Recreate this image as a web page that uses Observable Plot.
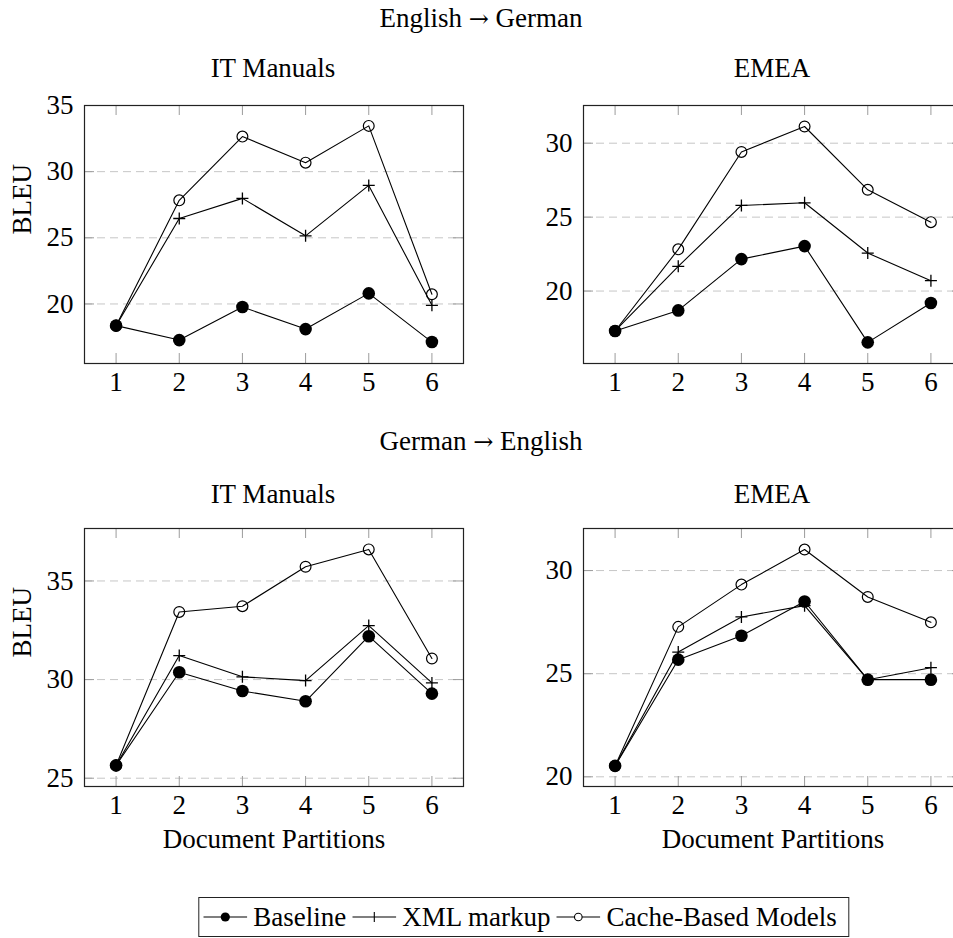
<!DOCTYPE html>
<html>
<head>
<meta charset="utf-8">
<script src="https://cdn.jsdelivr.net/npm/d3@7"></script>
<script src="https://cdn.jsdelivr.net/npm/@observablehq/plot@0.6"></script>
<style>
  html, body { margin: 0; padding: 0; background: #fff; overflow: hidden; }
  #root { position: relative; width: 953px; height: 938px; overflow: hidden; font-family: "Liberation Serif", serif; }
  .panel { position: absolute; }
  .panel svg { max-width: none !important; }
  #overlay { position: absolute; left: 0; top: 0; pointer-events: none; }
  #legend { position: absolute; top: 897px; left: 524px; transform: translateX(-50%); box-sizing: border-box;
            border: 1.2px solid #222; height: 40px; display: flex; align-items: center; padding: 0 6px 0 4px;
            white-space: nowrap; font: 27px "Liberation Serif", serif; color: #000; background: #fff; }
  #legend span { margin: 0 6px 0 6px; }
</style>
</head>
<body>
<div id="root"><svg id="overlay" width="953" height="938"></svg></div>
<script>
// ---- data ----
const partitions = [1, 2, 3, 4, 5, 6];
const xDomain = [0.5, 6.5];
const seriesNames = ["Baseline", "XML markup", "Cache-Based Models"];
const directions = [["English", "German"], ["German", "English"]];
const corpora = ["IT Manuals", "EMEA"];
const yAxisLabel = "BLEU";
const xAxisLabel = "Document Partitions";

// English -> German, IT Manuals
const enDeIT_baseline = [18.36, 17.27, 19.77, 18.10, 20.80, 17.12];
const enDeIT_xml      = [18.36, 26.46, 27.98, 25.15, 28.96, 19.90];
const enDeIT_cache    = [18.36, 27.83, 32.65, 30.68, 33.46, 20.73];
const enDeIT_yDomain  = [15.5, 35];
const enDeIT_yTicks   = [20, 25, 30, 35];
// English -> German, EMEA
const enDeEMEA_baseline = [17.30, 18.69, 22.16, 23.04, 16.53, 19.19];
const enDeEMEA_xml      = [17.30, 21.67, 25.79, 25.97, 22.57, 20.70];
const enDeEMEA_cache    = [17.30, 22.82, 29.41, 31.13, 26.85, 24.66];
const enDeEMEA_yDomain  = [15.1, 32.55];
const enDeEMEA_yTicks   = [20, 25, 30];
// German -> English, IT Manuals
const deEnIT_baseline = [25.65, 30.37, 29.42, 28.90, 32.20, 29.29];
const deEnIT_xml      = [25.65, 31.22, 30.14, 29.95, 32.74, 29.83];
const deEnIT_cache    = [25.65, 33.43, 33.72, 35.72, 36.60, 31.07];
const deEnIT_yDomain  = [24.58, 37.66];
const deEnIT_yTicks   = [25, 30, 35];
// German -> English, EMEA
const deEnEMEA_baseline = [20.53, 25.68, 26.84, 28.50, 24.71, 24.71];
const deEnEMEA_xml      = [20.53, 26.05, 27.75, 28.30, 24.71, 25.29];
const deEnEMEA_cache    = [20.53, 27.27, 29.32, 31.02, 28.72, 27.49];
const deEnEMEA_yDomain  = [19.53, 32.04];
const deEnEMEA_yTicks   = [20, 25, 30];

// ---- layout ----
const FONT = "Liberation Serif, serif";
const FS = 27;
const FRAME_H = 258;

const thinPlus = {
  draw(context, size) {
    const r = Math.sqrt(size / Math.PI);
    context.moveTo(-r, 0); context.lineTo(r, 0);
    context.moveTo(0, -r); context.lineTo(0, r);
  }
};

const panels = [
  {values: [enDeIT_baseline, enDeIT_xml, enDeIT_cache], yDomain: enDeIT_yDomain, yTicks: enDeIT_yTicks,
   left: 0, top: 95, width: 470, mL: 84, mR: 7, mT: 10, mB: 37, yLab: true, xLab: false},
  {values: [enDeEMEA_baseline, enDeEMEA_xml, enDeEMEA_cache], yDomain: enDeEMEA_yDomain, yTicks: enDeEMEA_yTicks,
   left: 490, top: 95, width: 480, mL: 93, mR: 8, mT: 10, mB: 37, yLab: false, xLab: false},
  {values: [deEnIT_baseline, deEnIT_xml, deEnIT_cache], yDomain: deEnIT_yDomain, yTicks: deEnIT_yTicks,
   left: 0, top: 518, width: 470, mL: 84, mR: 7, mT: 10, mB: 75, yLab: true, xLab: true},
  {values: [deEnEMEA_baseline, deEnEMEA_xml, deEnEMEA_cache], yDomain: deEnEMEA_yDomain, yTicks: deEnEMEA_yTicks,
   left: 490, top: 518, width: 480, mL: 93, mR: 8, mT: 10, mB: 75, yLab: false, xLab: true}
];

const root = document.getElementById("root");

function makePanel(cfg) {
  const rows = [];
  seriesNames.forEach((s, i) => cfg.values[i].forEach((v, j) => rows.push({series: s, x: partitions[j], y: v})));
  const fw = cfg.width - cfg.mL - cfg.mR;
  const tickCol = "#9c9c9c";
  const marks = [
    Plot.ruleY(cfg.yTicks, {stroke: "#c6c6c6", strokeWidth: 1, strokeDasharray: "8,5"}),
    Plot.ruleY(cfg.yTicks, {stroke: tickCol, strokeWidth: 1, insetRight: fw - 10}),
    Plot.ruleY(cfg.yTicks, {stroke: tickCol, strokeWidth: 1, insetLeft: fw - 10}),
    Plot.ruleX(partitions, {stroke: tickCol, strokeWidth: 1, insetTop: FRAME_H - 10}),
    Plot.ruleX(partitions, {stroke: tickCol, strokeWidth: 1, insetBottom: FRAME_H - 10}),
    Plot.frame({stroke: "#222", strokeWidth: 1.2}),
    Plot.axisX(partitions, {tickSize: 0, tickPadding: 8, label: null, fontSize: FS, tickFormat: d => String(d)}),
    Plot.axisY(cfg.yTicks, {tickSize: 0, tickPadding: 11, label: null, fontSize: FS, tickFormat: d => String(d)}),
    Plot.line(rows, {x: "x", y: "y", z: "series", stroke: "black", strokeWidth: 1.1}),
    Plot.dot(rows.filter(d => d.series === seriesNames[0]), {x: "x", y: "y", r: 6.3, fill: "black"}),
    Plot.dot(rows.filter(d => d.series === seriesNames[1]), {x: "x", y: "y", r: 6, symbol: thinPlus, fill: "none", stroke: "black", strokeWidth: 1.3}),
    Plot.dot(rows.filter(d => d.series === seriesNames[2]), {x: "x", y: "y", r: 5.4, fill: "none", stroke: "black", strokeWidth: 1.2})
  ];
  if (cfg.yLab) marks.push(Plot.text([yAxisLabel], {text: d => d, frameAnchor: "left", dx: -62, rotate: -90, fontSize: FS}));
  if (cfg.xLab) marks.push(Plot.text([xAxisLabel], {text: d => d, frameAnchor: "bottom", dy: 61, fontSize: FS}));
  const svg = Plot.plot({
    width: cfg.width,
    height: cfg.mT + FRAME_H + cfg.mB,
    marginLeft: cfg.mL, marginRight: cfg.mR, marginTop: cfg.mT, marginBottom: cfg.mB,
    x: {domain: xDomain, type: "linear"},
    y: {domain: cfg.yDomain, type: "linear"},
    style: {fontFamily: FONT, fontSize: FS + "px", background: "transparent", overflow: "visible", color: "#000", maxWidth: "none"},
    marks
  });
  svg.style.maxWidth = "none";
  svg.setAttribute("width", cfg.width);
  const wrap = document.createElement("div");
  wrap.className = "panel";
  wrap.style.left = cfg.left + "px";
  wrap.style.top = cfg.top + "px";
  wrap.style.width = cfg.width + "px";
  wrap.appendChild(svg);
  root.appendChild(wrap);
}
panels.forEach(makePanel);

// titles
const overlayEl = document.getElementById("overlay");
root.appendChild(overlayEl);
const overlay = d3.select(overlayEl);
const titles = [
  {dir: directions[0], x: 481, y: 27},
  {t: corpora[0], x: 273, y: 77},
  {t: corpora[1], x: 772, y: 77},
  {dir: directions[1], x: 481, y: 450},
  {t: corpora[0], x: 273, y: 503},
  {t: corpora[1], x: 772, y: 503}
];
const tt = overlay.selectAll("text").data(titles).join("text")
  .attr("x", d => d.x).attr("y", d => d.y)
  .attr("text-anchor", "middle")
  .attr("font-family", FONT).attr("font-size", FS)
  .attr("fill", "#000");
tt.each(function(d) {
  const el = d3.select(this);
  if (d.dir) {
    el.append("tspan").text(d.dir[0] + " ");
    el.append("tspan").attr("font-family", "DejaVu Serif").attr("font-size", 24).text("\u2192");
    el.append("tspan").text(" " + d.dir[1]);
  } else {
    el.text(d.t);
  }
});

// legend
const legend = document.createElement("div");
legend.id = "legend";
const legendMarks = ["disc", "plus", "circle"];
seriesNames.forEach((name, i) => {
  const ns = "http://www.w3.org/2000/svg";
  const s = document.createElementNS(ns, "svg");
  s.setAttribute("width", 44); s.setAttribute("height", 20);
  const ln = document.createElementNS(ns, "line");
  ln.setAttribute("x1", 0); ln.setAttribute("x2", 44); ln.setAttribute("y1", 10); ln.setAttribute("y2", 10);
  ln.setAttribute("stroke", "black"); ln.setAttribute("stroke-width", 1.1);
  s.appendChild(ln);
  if (legendMarks[i] === "disc") {
    const c = document.createElementNS(ns, "circle");
    c.setAttribute("cx", 22); c.setAttribute("cy", 10); c.setAttribute("r", 4.6); c.setAttribute("fill", "black");
    s.appendChild(c);
  } else if (legendMarks[i] === "plus") {
    const p = document.createElementNS(ns, "path");
    p.setAttribute("d", "M22,5V15");
    p.setAttribute("stroke", "black"); p.setAttribute("stroke-width", 1.1);
    s.appendChild(p);
  } else {
    const c = document.createElementNS(ns, "circle");
    c.setAttribute("cx", 22); c.setAttribute("cy", 10); c.setAttribute("r", 3.8);
    c.setAttribute("fill", "white"); c.setAttribute("stroke", "black"); c.setAttribute("stroke-width", 1.1);
    s.appendChild(c);
  }
  legend.appendChild(s);
  const sp = document.createElement("span");
  sp.textContent = name;
  legend.appendChild(sp);
});
root.appendChild(legend);
</script>
</body>
</html>
